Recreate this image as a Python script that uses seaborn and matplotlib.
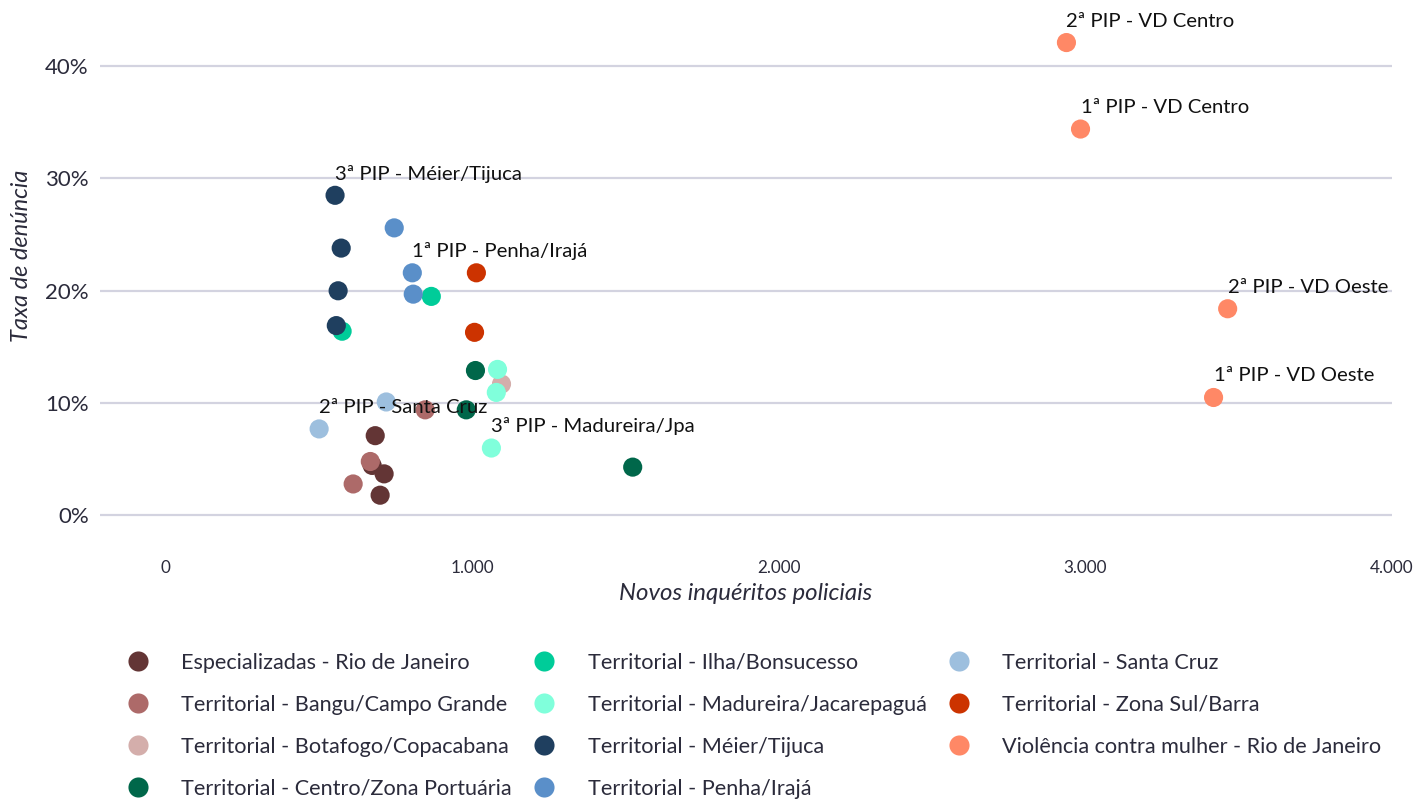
import matplotlib.pyplot as plt
import matplotlib.ticker as mticker
import pandas as pd
import seaborn as sns

sns.set_theme(style='white')
plt.rcParams['font.family'] = ['Lato', 'DejaVu Sans']

# --- Data ---
groups = [
    'Especializadas - Rio de Janeiro',
    'Territorial - Bangu/Campo Grande',
    'Territorial - Botafogo/Copacabana',
    'Territorial - Centro/Zona Portuária',
    'Territorial - Ilha/Bonsucesso',
    'Territorial - Madureira/Jacarepaguá',
    'Territorial - Méier/Tijuca',
    'Territorial - Penha/Irajá',
    'Territorial - Santa Cruz',
    'Territorial - Zona Sul/Barra',
    'Violência contra mulher - Rio de Janeiro',
]
colors = ['#633535', '#ad6a69', '#d4aeab', '#00674a', '#00cc99', '#80ffdb',
          '#1f3f5f', '#5a8fc9', '#9dbfde', '#cc3300', '#ff8866']

point_group = [0, 0, 0, 0,
               1, 1, 1,
               2,
               3, 3, 3,
               4, 4,
               5, 5, 5,
               6, 6, 6, 6,
               7, 7, 7,
               8, 8,
               9, 9,
               10, 10, 10, 10]
inqueritos = [683, 673, 712, 699,
              846, 667, 611,
              1095,
              1010, 980, 1523,
              575, 866,
              1082, 1078, 1062,
              552, 572, 562, 556,
              745, 804, 807,
              719, 500,
              1013, 1007,
              2938, 2984, 3464, 3418]
taxa = [0.071, 0.0445, 0.037, 0.018,
        0.094, 0.048, 0.028,
        0.117,
        0.129, 0.094, 0.043,
        0.164, 0.195,
        0.130, 0.1095, 0.060,
        0.285, 0.238, 0.200, 0.169,
        0.256, 0.216, 0.197,
        0.101, 0.077,
        0.216, 0.163,
        0.421, 0.344, 0.184, 0.105]

# labelled points: (text, point index)
label_texts = ['3ª PIP - Méier/Tijuca', '1ª PIP - Penha/Irajá', '2ª PIP - Santa Cruz',
               '3ª PIP - Madureira/Jpa', '2ª PIP - VD Centro', '1ª PIP - VD Centro',
               '2ª PIP - VD Oeste', '1ª PIP - VD Oeste']
label_points = [16, 21, 24, 15, 27, 28, 29, 30]

df = pd.DataFrame({
    'inqueritos': inqueritos,
    'taxa': taxa,
    'grupo': [groups[g] for g in point_group],
})

fig = plt.figure(figsize=(14.24, 7.99), dpi=100)
ax = fig.add_axes([0.0702, 0.324, 0.9073, 0.6635])

sns.scatterplot(data=df, x='inqueritos', y='taxa', hue='grupo', hue_order=groups,
                palette=colors, s=190, linewidth=0, alpha=1, ax=ax, zorder=3)

for txt, i in zip(label_texts, label_points):
    ax.annotate(txt, (inqueritos[i], taxa[i]), xytext=(0, 15.5), textcoords='offset points',
                ha='left', va='center', fontsize=14.6, color='#111111', zorder=4)

ax.set_xlim(-215, 4000)
ax.set_ylim(-0.022, 0.45)
ax.set_xticks([0, 1000, 2000, 3000, 4000])
ax.xaxis.set_major_formatter(mticker.FuncFormatter(lambda v, p: f'{v:,.0f}'.replace(',', '.')))
ax.set_yticks([0, 0.1, 0.2, 0.3, 0.4])
ax.yaxis.set_major_formatter(mticker.FuncFormatter(lambda v, p: f'{v * 100:.0f}%'))
ax.tick_params(axis='y', labelsize=16, labelcolor='#2b2b3b', length=0, pad=8)
ax.tick_params(axis='x', labelsize=12.3, labelcolor='#2b2b3b', length=0, pad=14)

ax.grid(axis='y', color='#d3d3e0', linewidth=1.6)
ax.grid(axis='x', visible=False)
for sp in ax.spines.values():
    sp.set_visible(False)

ax.set_xlabel('Novos inquéritos policiais', fontsize=17.3, style='italic', color='#2b2b3b')
ax.xaxis.set_label_coords(0.5, -0.08)
ax.set_ylabel('Taxa de denúncia', fontsize=17, style='italic', color='#2b2b3b')
ax.yaxis.set_label_coords(-0.0526, 0.536)

sns.move_legend(ax, 'upper left', bbox_to_anchor=(-0.0025, -0.1755), ncol=3, frameon=False,
                title=None, fontsize=15.6, markerscale=1.05, handletextpad=1.0,
                columnspacing=0.5, labelspacing=1.02, labelcolor='#2b2b3b')

plt.savefig('out.png', dpi=100)
plt.close()
